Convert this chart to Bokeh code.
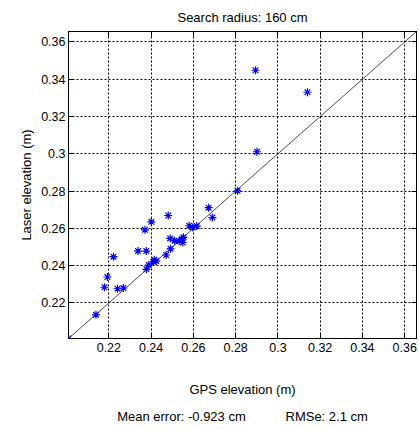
from bokeh.plotting import figure
from bokeh.models import Range1d, FixedTicker, LinearAxis, Title, ColumnDataSource
from bokeh.embed import file_html
from bokeh.resources import INLINE

# GPS elevation (m) vs laser elevation (m)
gps = [0.2009, 0.2139, 0.2179, 0.2193, 0.2222, 0.2241, 0.2269, 0.2338, 0.2371,
       0.2377, 0.2378, 0.2389, 0.2401, 0.2415, 0.2424, 0.2411, 0.2471, 0.2481,
       0.2492, 0.2490, 0.2511, 0.2533, 0.2546, 0.2550, 0.2553, 0.2580, 0.2597,
       0.2616, 0.2672, 0.2690, 0.2809, 0.2894, 0.2901, 0.3140]
laser = [0.2009, 0.2136, 0.2284, 0.2339, 0.2448, 0.2276, 0.2280, 0.2478, 0.2592,
         0.2478, 0.2380, 0.2403, 0.2635, 0.2432, 0.2425, 0.2420, 0.2457, 0.2669,
         0.2490, 0.2546, 0.2534, 0.2531, 0.2543, 0.2524, 0.2552, 0.2614, 0.2605,
         0.2612, 0.2711, 0.2658, 0.2801, 0.3448, 0.3011, 0.3330]

axis_lims = [0.2009, 0.3656]
one_to_one = [0.2009, 0.3656]
ticks = [0.22, 0.24, 0.26, 0.28, 0.30, 0.32, 0.34, 0.36]
tick_labels = ["0.22", "0.24", "0.26", "0.28", "0.3", "0.32", "0.34", "0.36"]

title_text = "Search radius: 160 cm"
x_label = "GPS elevation (m)"
y_label = "Laser elevation (m)"
stats_text = "Mean error: -0.923 cm" + "\u00a0" * 11 + "RMSe: 2.1 cm"

FONT = "Liberation Sans"

p = figure(width=419, height=430,
           min_border_left=68, min_border_right=3, min_border_top=31, min_border_bottom=87,
           x_range=Range1d(*axis_lims), y_range=Range1d(*axis_lims),
           output_backend="svg", toolbar_location=None, title=title_text)
p.background_fill_color = "white"
p.border_fill_color = "white"
p.outline_line_color = "black"
p.outline_line_width = 1

p.title.text_font = FONT
p.title.text_font_size = "13px"
p.title.text_font_style = "normal"
p.title.align = "center"
p.title.text_color = "black"
p.title.standoff = 13

overrides = dict(zip(ticks, tick_labels))
for ax in (p.xaxis[0], p.yaxis[0]):
    ax.ticker = FixedTicker(ticks=ticks)
    ax.major_label_overrides = overrides
    ax.major_label_text_font = FONT
    ax.major_label_text_font_size = "12.5px"
    ax.major_label_text_color = "black"
    ax.major_tick_in = 5
    ax.major_tick_out = 0
    ax.minor_tick_line_color = None
    ax.axis_line_color = "black"
    ax.major_tick_line_color = "black"
    ax.axis_label_text_font = FONT
    ax.axis_label_text_font_size = "13px"
    ax.axis_label_text_font_style = "normal"
    ax.axis_label_text_color = "black"

p.xaxis[0].axis_label = x_label
p.xaxis[0].major_label_standoff = 4
p.xaxis[0].axis_label_standoff = 27
p.yaxis[0].axis_label = y_label
p.yaxis[0].major_label_standoff = 3
p.yaxis[0].axis_label_standoff = 4

for side in ("above", "right"):
    ax = LinearAxis(ticker=FixedTicker(ticks=ticks), major_label_text_font_size="1px",
                    major_label_text_color=None,
                    major_label_standoff=0, major_tick_in=5, major_tick_out=0,
                    minor_tick_line_color=None, axis_line_color="black",
                    major_tick_line_color="black")
    p.add_layout(ax, side)

for g in (p.xgrid[0], p.ygrid[0]):
    g.ticker = FixedTicker(ticks=ticks)
    g.grid_line_color = "black"
    g.grid_line_dash = "2 2"
    g.grid_line_width = 1

p.line(one_to_one, one_to_one, line_color="black", line_width=0.7)

src = ColumnDataSource(dict(x=gps, y=laser))
p.scatter("x", "y", source=src, marker="asterisk", size=8, line_color="#0000FF",
          line_width=1.2)

stats = Title(text=stats_text, align="center", text_font=FONT, text_font_size="13px",
              text_font_style="normal", text_color="black", standoff=14)
p.add_layout(stats, "below")

open("out.html", "w").write(file_html(p, INLINE))
